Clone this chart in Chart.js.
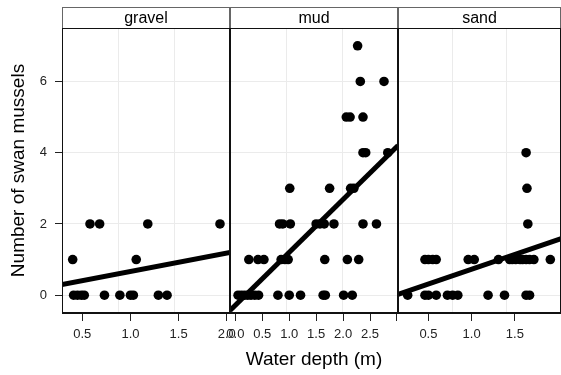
<!DOCTYPE html>
<html>
<head>
<meta charset="utf-8">
<script src="https://cdn.jsdelivr.net/npm/chart.js@4.4.1/dist/chart.umd.min.js"></script>
<style>
    html, body { margin: 0; padding: 0; background: #fff; overflow: hidden; }
    #wrap { position: relative; width: 561px; height: 375px; overflow: hidden; }
    #wrap canvas { position: absolute; left: 0; top: 0; }
    #xtitle {
        position: absolute; left: 62px; width: 504px; top: 348px;
        text-align: center; line-height: 22px;
        font: 19px 'Liberation Sans', Arial, Helvetica, sans-serif; color: #000;
    }
</style>
</head>
<body>
<div id="wrap">
    <canvas id="gravelChart" width="566" height="375"></canvas>
    <canvas id="mudChart" width="566" height="375"></canvas>
    <canvas id="sandChart" width="566" height="375"></canvas>
    <div id="xtitle">Water depth (m)</div>
</div>
<script>
// panels and axis ticks
const substrates = ['gravel', 'mud', 'sand'];
const countTicks = [0, 2, 4, 6];
const gravelTicks = [0.5, 1.0, 1.5, 2.0];
const mudTicks = [0.0, 0.5, 1.0, 1.5, 2.0, 2.5, 3.0];
const mudTickLabels = ['0.0', '0.5', '1.0', '1.5', '2.0', '2.5', ''];
const sandTicks = [0.5, 1.0, 1.5];

// observations: water depth (m) and number of swan mussels
const gravelDepth = [0.58, 0.68, 1.18, 1.93, 0.40, 1.06, 0.41, 0.45, 0.49, 0.52, 0.73, 0.89, 1.00, 1.03, 1.29, 1.38];
const gravelCount = [2, 2, 2, 2, 1, 1, 0, 0, 0, 0, 0, 0, 0, 0, 0, 0];

const mudDepth = [2.27, 2.32, 2.76, 2.06, 2.13, 2.37, 2.37, 2.42, 2.83,
    1.01, 1.75, 2.14, 2.20,
    0.82, 0.88, 1.02, 1.50, 1.57, 1.65, 1.83, 2.37, 2.62,
    0.25, 0.42, 0.53, 0.85, 0.92, 0.98, 1.66, 2.08, 2.29,
    0.05, 0.11, 0.17, 0.23, 0.29, 0.36, 0.43, 0.79, 1.00, 1.21, 1.63, 1.67, 2.01, 2.17];
const mudCount = [7, 6, 6, 5, 5, 5, 4, 4, 4,
    3, 3, 3, 3,
    2, 2, 2, 2, 2, 2, 2, 2, 2,
    1, 1, 1, 1, 1, 1, 1, 1, 1,
    0, 0, 0, 0, 0, 0, 0, 0, 0, 0, 0, 0, 0, 0];

const sandDepth = [1.63, 1.64, 1.65,
    0.46, 0.50, 0.55, 0.59, 0.96, 1.03, 1.31, 1.44, 1.47, 1.51, 1.56, 1.59, 1.63, 1.67, 1.72, 1.91,
    0.26, 0.46, 0.50, 0.59, 0.72, 0.78, 0.84, 1.19, 1.38, 1.63, 1.67];
const sandCount = [4, 3, 2,
    1, 1, 1, 1, 1, 1, 1, 1, 1, 1, 1, 1, 1, 1, 1, 1,
    0, 0, 0, 0, 0, 0, 0, 0, 0, 0, 0];

// fitted lines, read at the panel edges
const gravelFitX = [0.289, 2.034];
const gravelFitY = [0.30, 1.20];
const mudFitX = [-0.10, 3.02];
const mudFitY = [-0.43, 4.20];
const sandFitX = [0.148, 2.036];
const sandFitY = [0.02, 1.59];

Chart.defaults.font.family = "'Liberation Sans', Arial, Helvetica, sans-serif";

const stripPlugin = {
    id: 'strip',
    afterDraw(chart, args, opts) {
        const ctx = chart.ctx;
        const a = chart.chartArea;
        const l = Math.round(a.left) + 0.5, r = Math.round(a.right) - 0.5;
        const t = Math.round(a.top) + 0.5, b = Math.round(a.bottom) - 0.5;
        ctx.save();
        ctx.lineWidth = 1;
        // strip
        ctx.fillStyle = '#fff';
        ctx.fillRect(l, 7.5, r - l, t - 7.5);
        ctx.strokeStyle = '#666';
        ctx.strokeRect(l, 7.5, r - l, t - 7.5);
        ctx.fillStyle = '#000';
        ctx.font = "16px 'Liberation Sans', Arial, sans-serif";
        ctx.textAlign = 'center';
        ctx.textBaseline = 'middle';
        ctx.fillText(opts.label, (l + r) / 2, (7.5 + t) / 2 + 1);
        // panel frame
        ctx.strokeStyle = '#111';
        ctx.strokeRect(l, t, r - l, b - t);
        ctx.restore();
    }
};

function makePanel(canvasId, label, depth, count, fitX, fitY, xMin, xMax, ticks, tickLabels, padLeft, padRight, first) {
    const points = depth.map((d, i) => ({x: d, y: count[i]}));
    const fit = fitX.map((d, i) => ({x: d, y: fitY[i]}));
    return new Chart(document.getElementById(canvasId), {
        type: 'scatter',
        data: {
            datasets: [{
                data: points,
                xAxisID: 'x',
                backgroundColor: '#000',
                borderWidth: 0,
                pointRadius: 4.8,
                pointHoverRadius: 4.8
            }, {
                type: 'line',
                data: fit,
                xAxisID: 'x',
                borderColor: '#000',
                borderWidth: 5,
                pointRadius: 0,
                fill: false
            }]
        },
        options: {
            responsive: false,
            animation: false,
            layout: { padding: { left: padLeft, right: padRight, top: 28, bottom: 0 } },
            plugins: {
                legend: { display: false },
                tooltip: { enabled: false },
                strip: { label: label }
            },
            scales: {
                x: {
                    type: 'linear',
                    min: xMin,
                    max: xMax,
                    afterBuildTicks: s => { s.ticks = ticks.map(v => ({value: v})); },
                    afterFit: s => { s.height = 62; },
                    ticks: {
                        callback: (v, i) => tickLabels[i],
                        font: { size: 13 },
                        color: '#222',
                        padding: 6,
                        maxRotation: 0,
                        autoSkip: false
                    },
                    grid: { drawOnChartArea: false, tickLength: 8, tickColor: '#222' },
                    border: { color: '#111' }
                },
                xg: {
                    type: 'linear',
                    position: 'bottom',
                    min: xMin,
                    max: xMax,
                    afterBuildTicks: s => {
                        s.ticks = [1, 2].map(k => ({value: xMin + (xMax - xMin) * k / 3}));
                    },
                    afterFit: s => { s.height = 0; },
                    ticks: { display: false },
                    grid: { color: '#ebebeb', drawTicks: false },
                    border: { display: false }
                },
                y: {
                    min: -0.5,
                    max: 7.5,
                    afterBuildTicks: s => { s.ticks = countTicks.map(v => ({value: v})); },
                    afterFit: s => { s.width = first ? 62 : 0; },
                    ticks: {
                        display: first,
                        font: { size: 13 },
                        color: '#222',
                        padding: 8
                    },
                    grid: { color: '#ebebeb', drawTicks: first, tickLength: 7, tickColor: '#222' },
                    border: { display: first, color: '#111' },
                    title: {
                        display: first,
                        text: 'Number of swan mussels',
                        font: { size: 19 },
                        color: '#000',
                        padding: { top: 7, bottom: 0 }
                    }
                }
            }
        },
        plugins: [stripPlugin]
    });
}

makePanel('gravelChart', substrates[0], gravelDepth, gravelCount, gravelFitX, gravelFitY,
    0.289, 2.034, gravelTicks, ['0.5', '1.0', '1.5', '2.0'], 0, 336, true);
makePanel('mudChart', substrates[1], mudDepth, mudCount, mudFitX, mudFitY,
    -0.10, 3.02, mudTicks, mudTickLabels, 230, 168, false);
makePanel('sandChart', substrates[2], sandDepth, sandCount, sandFitX, sandFitY,
    0.148, 2.036, sandTicks, ['0.5', '1.0', '1.5'], 398, 0, false);
</script>
</body>
</html>
